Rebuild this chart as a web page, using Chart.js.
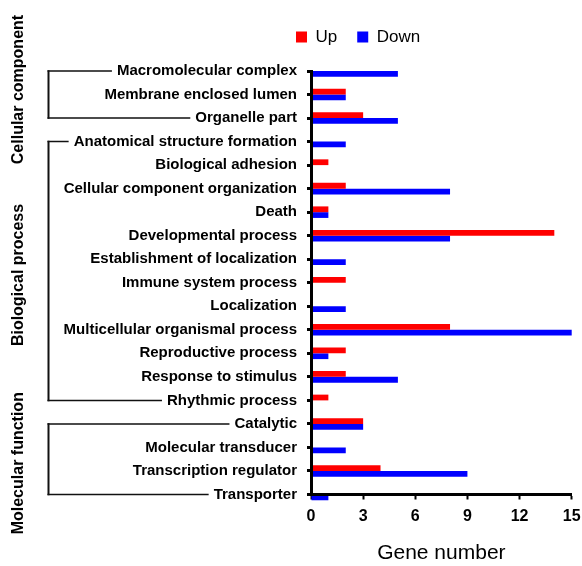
<!DOCTYPE html>
<html>
<head>
<meta charset="utf-8">
<title>Gene number by GO category</title>
<script src="https://cdn.jsdelivr.net/npm/chart.js@4.4.1/dist/chart.umd.min.js"></script>
<style>
    html, body { margin: 0; padding: 0; background: #ffffff; }
    canvas { display: block; }
</style>
</head>
<body>
<canvas id="goChart" width="582" height="566"></canvas>
<script>
// GO terms, top to bottom
const categories = [
    'Macromolecular complex',
    'Membrane enclosed lumen',
    'Organelle part',
    'Anatomical structure formation',
    'Biological adhesion',
    'Cellular component organization',
    'Death',
    'Developmental process',
    'Establishment of localization',
    'Immune system process',
    'Localization',
    'Multicellular organismal process',
    'Reproductive process',
    'Response to stimulus',
    'Rhythmic process',
    'Catalytic',
    'Molecular transducer',
    'Transcription regulator',
    'Transporter'
];

const upCounts   = [0, 2, 3, 0, 1, 2, 1, 14, 0, 2, 0, 8, 2, 2, 1, 3, 0, 4, 0];
const downCounts = [5, 2, 5, 2, 0, 8, 1, 8, 2, 0, 2, 15, 1, 5, 0, 3, 2, 9, 1];

const xTicks = [0, 3, 6, 9, 12, 15];

// GO groups (index of first and last term)
const groupNames = ['Cellular component', 'Biological process', 'Molecular function'];
const groupStart = [0, 3, 15];
const groupEnd   = [2, 14, 18];

const FONT = '"Liberation Sans", Arial, Helvetica, sans-serif';
Chart.defaults.font.family = FONT;
Chart.defaults.color = '#000000';

/**
 * Move the legend to sit above the bars, like the original figure
 */
const legendPlacer = {
    id: 'legendPlacer',
    afterLayout(chart) {
        const lg = chart.legend;
        if (!lg) return;
        const pad = lg.options.labels.padding;
        lg.left = 296 - pad;
        lg.top = 28.5 - pad;
    }
};

/**
 * Draw the group brackets and rotated group names on the left
 */
const groupBrackets = {
    id: 'groupBrackets',
    afterDraw(chart) {
        const ctx = chart.ctx;
        const yScale = chart.scales.y;
        const labelRight = yScale.right - 4 - 10;
        const bx = 48.5;
        const nameShift = [-5, 4, 4];

        ctx.save();
        ctx.font = 'bold 15px ' + FONT;
        ctx.strokeStyle = '#111111';

        groupNames.forEach(function(name, g) {
            const top = yScale.getPixelForValue(groupStart[g]);
            const bottom = yScale.getPixelForValue(groupEnd[g]);
            const topEnd = labelRight - ctx.measureText(categories[groupStart[g]]).width - 5;
            const bottomEnd = labelRight - ctx.measureText(categories[groupEnd[g]]).width - 5;

            ctx.lineWidth = 2;
            ctx.beginPath();
            ctx.moveTo(bx, top - 0.75);
            ctx.lineTo(bx, bottom + 0.75);
            ctx.stroke();

            ctx.lineWidth = 1.5;
            ctx.beginPath();
            ctx.moveTo(bx - 1, top);
            ctx.lineTo(topEnd, top);
            ctx.moveTo(bx - 1, bottom);
            ctx.lineTo(bottomEnd, bottom);
            ctx.stroke();
        });

        ctx.font = 'bold 16px ' + FONT;
        ctx.fillStyle = '#000000';
        ctx.textAlign = 'center';
        ctx.textBaseline = 'middle';
        groupNames.forEach(function(name, g) {
            const mid = (yScale.getPixelForValue(groupStart[g]) + yScale.getPixelForValue(groupEnd[g])) / 2;
            ctx.save();
            ctx.translate(19, mid + nameShift[g]);
            ctx.rotate(-Math.PI / 2);
            ctx.fillText(name, 0, 0);
            ctx.restore();
        });
        ctx.restore();
    }
};

new Chart(document.getElementById('goChart'), {
    type: 'bar',
    data: {
        labels: categories,
        datasets: [
            {
                label: 'Up',
                data: upCounts,
                backgroundColor: '#ff0000',
                borderWidth: 0,
                clip: false
            },
            {
                label: 'Down',
                data: downCounts,
                backgroundColor: '#0000ff',
                borderWidth: 0,
                clip: false
            }
        ]
    },
    options: {
        indexAxis: 'y',
        responsive: false,
        animation: false,
        events: [],
        categoryPercentage: 0.49,
        barPercentage: 1,
        layout: {
            padding: { top: 24, right: 10.3, bottom: 0, left: 0 }
        },
        plugins: {
            legend: {
                position: 'top',
                align: 'start',
                labels: {
                    boxWidth: 11,
                    boxHeight: 11,
                    padding: 20,
                    color: '#000000',
                    font: { size: 17 }
                }
            },
            tooltip: { enabled: false }
        },
        scales: {
            y: {
                type: 'category',
                offset: false,
                grid: {
                    offset: false,
                    drawOnChartArea: false,
                    drawTicks: true,
                    tickLength: 4,
                    tickWidth: 3,
                    tickColor: '#000000'
                },
                border: { display: true, color: '#000000', width: 3, z: 1 },
                ticks: {
                    autoSkip: false,
                    padding: 10,
                    color: '#000000',
                    font: { size: 15, weight: 'bold' }
                },
                afterFit: function(scale) {
                    scale.width = 311;
                    scale.paddingTop = 0;
                    scale.paddingBottom = 0;
                }
            },
            x: {
                type: 'linear',
                min: 0,
                max: 15,
                grid: {
                    drawOnChartArea: false,
                    drawTicks: true,
                    tickLength: 5,
                    tickWidth: 2,
                    tickColor: '#000000'
                },
                border: { display: true, color: '#000000', width: 3, z: 1 },
                ticks: {
                    padding: 7,
                    color: '#000000',
                    font: { size: 16, weight: 'bold' }
                },
                afterBuildTicks: function(scale) {
                    scale.ticks = xTicks.map(function(v) { return { value: v }; });
                },
                title: {
                    display: true,
                    text: 'Gene number',
                    color: '#000000',
                    font: { size: 21, weight: 'normal' },
                    padding: { top: 4, bottom: 0 }
                },
                afterFit: function(scale) {
                    scale.height = 71.5;
                    scale.paddingLeft = 0;
                    scale.paddingRight = 0;
                }
            }
        }
    },
    plugins: [legendPlacer, groupBrackets]
});
</script>
</body>
</html>
